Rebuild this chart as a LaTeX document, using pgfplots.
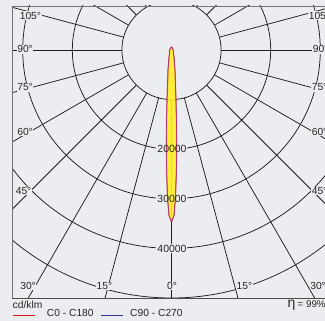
\documentclass[border=0pt]{standalone}
\usepackage{pgfplots}
\pgfplotsset{compat=1.18}
\usepackage{pgfplotstable}
\usepackage{fontspec}
\setmainfont{Liberation Sans}
\definecolor{bg}{HTML}{ECEDF0}
\definecolor{beam}{HTML}{FFF02A}
\definecolor{cred}{HTML}{E01010}
\definecolor{cblue}{HTML}{333399}
\definecolor{gridc}{HTML}{1E1E1E}

% beam, polar angle (deg) and cd/klm
\pgfplotstableread{
theta r
-90 34700
-89.1 33300
-88.5 30000
-87.8 25200
-87 20000
-86 14500
-84.8 9900
-82.8 6100
-80 4100
-76 2300
-73 1900
-65 1000
-50 600
-30 450
0 350
30 350
60 400
80 550
90 600
100 550
120 400
150 350
180 350
210 450
230 600
245 1000
253 1900
256 2300
260 4100
262.8 6100
264.8 9900
266 14500
267 20000
267.8 25200
268.5 30000
269.1 33300
270 34700
}\beamtable

\begin{document}
\begin{tikzpicture}[x=1bp,y=1bp]
\useasboundingbox (0,0) rectangle (325,321);
\clip (0,0) rectangle (325,321);
\fill[bg] (-5,-5) rectangle (330,326);
\begin{axis}[at={(12bp,23bp)}, anchor=south west, scale only axis,
  width=319bp, height=292bp,
  xmin=-32160, xmax=32160, ymin=-50000, ymax=8870,
  hide axis, clip=true]
  % circles
  \draw[gridc, line width=0.75bp] (axis cs:0,0) circle[radius=10000];
  \draw[gridc, line width=0.75bp] (axis cs:0,0) circle[radius=20000];
  \draw[gridc, line width=0.75bp] (axis cs:0,0) circle[radius=30000];
  \draw[gridc, line width=0.75bp] (axis cs:0,0) circle[radius=40000];
  \draw[gridc, line width=0.75bp] (axis cs:0,0) circle[radius=50000];
  % radial lines every 15 degrees
  \pgfplotsinvokeforeach{-90,-75,-60,-45,-30,-15,0,15,30,45,60,75,90,105,120,135,150,165,180,195,210,225,240,255}{
    \addplot[gridc, line width=0.75bp, data cs=polar] coordinates {(#1,10000) (#1,80000)};
  }
  % value label boxes
  \node[fill=bg, inner sep=0.6bp, text=bg, font=\fontsize{10.5}{12}\selectfont] at (axis cs:0,-20000) {20000};
  \node[fill=bg, inner sep=0.6bp, text=bg, font=\fontsize{10.5}{12}\selectfont] at (axis cs:0,-30000) {30000};
  \node[fill=bg, inner sep=0.6bp, text=bg, font=\fontsize{10.5}{12}\selectfont] at (axis cs:0,-40000) {40000};
  % beam
  \addplot[fill=beam, fill opacity=0.92, draw=none, data cs=polar] table[x=theta, y=r] {\beamtable};
  \addplot[cred, line width=1.3bp, opacity=0.45, data cs=polar] table[x=theta, y=r] {\beamtable};
  \addplot[cblue, line width=0.6bp, opacity=0.35, data cs=polar] table[x=theta, y=r] {\beamtable};
  \addplot[color={rgb,255:red,175;green,40;blue,125}, line width=0.55bp, data cs=polar] table[x=theta, y=r] {\beamtable};
\end{axis}
% frame
\draw[black!55, line width=0.9bp] (12,23) -- (12,315) -- (340,315);
\draw[black!70, line width=0.9bp] (12,23) -- (340,23);
% value labels
\begin{scope}[every node/.style={inner sep=0pt, text=black!85, font=\fontsize{10.5}{12}\selectfont}]
\node at (172,172) {20000};
\node at (172,122) {30000};
\node at (172,72) {40000};
\end{scope}
% angle labels
\begin{scope}[every node/.style={fill=bg, inner sep=0.6bp, text=black!85, font=\fontsize{10.3}{12}\selectfont}]
\node[anchor=west] at (19,305.5) {105°};
\node[anchor=west] at (16.5,271.7) {90°};
\node[anchor=west] at (16.5,233.7) {75°};
\node[anchor=west] at (16.5,189.5) {60°};
\node[anchor=west] at (15,130) {45°};
\node[anchor=west] at (19.5,35) {30°};
\node at (104.5,35) {15°};
\node at (172,35) {0°};
\node at (244.5,35) {15°};
\node[anchor=west] at (308,305.5) {105°};
\node[anchor=west] at (312,271.7) {90°};
\node[anchor=west] at (311,233.7) {75°};
\node[anchor=west] at (311,189.5) {60°};
\node[anchor=west] at (311,130) {45°};
\node[anchor=west] at (309.5,35) {30°};
\end{scope}
% legend
\begin{scope}[every node/.style={inner sep=0pt, text=black!85, font=\fontsize{10.3}{12}\selectfont}]
\node[anchor=base west] at (12.5,12.7) {cd/klm};
\draw[cred, line width=1bp] (12.5,5.3) -- (35,5.3);
\node[anchor=base west] at (46.7,4.3) {C0 - C180};
\draw[cblue, line width=1bp] (101,5.3) -- (123.3,5.3);
\node[anchor=base west] at (130,4.3) {C90 - C270};
\node[anchor=base west, font=\fontsize{14}{15}\selectfont] at (287.5,13.7) {η};
\node[anchor=base west, font=\fontsize{9.8}{12}\selectfont] at (297.5,13.7) {= 99\%};
\end{scope}
\end{tikzpicture}
\end{document}
